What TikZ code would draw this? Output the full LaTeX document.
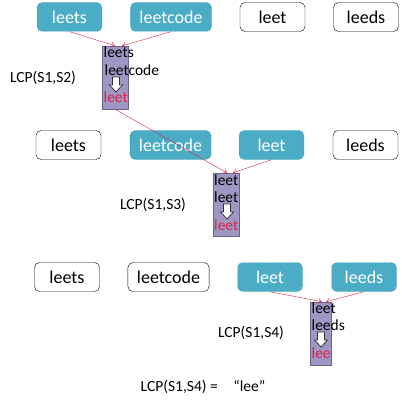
\documentclass[tikz,border=0pt]{standalone}
\usepackage{fontspec}
\setmainfont{Carlito}
\usetikzlibrary{arrows.meta}
\definecolor{hlblue}{RGB}{75,172,198}
\definecolor{hledge}{RGB}{50,130,160}
\definecolor{lcpfill}{RGB}{160,150,195}
\definecolor{lcpedge}{RGB}{105,100,130}
\definecolor{lcpred}{RGB}{225,35,70}
\tikzset{
	word/.style={draw=black, rounded corners=5pt, minimum width=65pt, minimum height=29pt, inner xsep=9pt, font=\fontsize{18}{18}\selectfont},
	wordhl/.style={word, fill=hlblue, draw=hledge, densely dotted, text=white},
	lcpbar/.style={draw=lcpedge, fill=lcpfill, minimum width=26pt, minimum height=63pt, inner sep=0pt},
	bartext/.style={anchor=west, inner sep=0pt, font=\fontsize{15.5}{15.5}\selectfont},
	label/.style={font=\fontsize{15.5}{15.5}\selectfont},
	link/.style={draw=lcpred, -{To[length=4pt,width=6pt]}},
	downarr/.pic={\draw[fill=white, draw=black!80, thick] (-3.5,0) -- (3.5,0) -- (3.5,8) -- (6.5,8) -- (0,15) -- (-6.5,8) -- (-3.5,8) -- cycle;}
}
\begin{document}
\begin{tikzpicture}[x=1pt,y=-1pt]
	\useasboundingbox (0,0) rectangle (401,406);
	% first pair: S1 and S2
	\node[wordhl] (s1a) at (69.5,17) {leets};
	\node[wordhl] (s1b) at (171,17) {leetcode};
	\node[word] (s1c) at (272.5,17) {leet};
	\node[word] (s1d) at (366,17) {leeds};
	\node[lcpbar] (r1) at (115,77.5) {};
	\node[bartext] at (103.5,52) {leets};
	\node[bartext] at (104.5,70) {leetcode};
	\pic at (116,77) {downarr};
	\node[bartext, text=lcpred] at (103.5,97) {leet};
	\node[label] (l1) at (43,78) {LCP(S1,S2)};
	\draw[link] (s1a.south) -- (r1.north);
	\draw[link] (s1b.south) -- ([xshift=7pt]r1.north);
	
	% second pair: S1 and S3
	\node[word] (s2a) at (68.5,145) {leets};
	\node[wordhl] (s2b) at (170.5,145) {leetcode};
	\node[wordhl] (s2c) at (271.5,145) {leet};
	\node[word] (s2d) at (365.5,145) {leeds};
	\node[lcpbar] (r2) at (226,204.5) {};
	\node[bartext] at (214,180) {leet};
	\node[bartext] at (214,197) {leet};
	\pic at (227,204) {downarr};
	\node[bartext, text=lcpred] at (214,225) {leet};
	\node[label] (l2) at (153,205) {LCP(S1,S3)};
	\draw[link] (r1.south) -- ([xshift=1pt]r2.north);
	\draw[link] (s2c.south) -- ([xshift=7pt]r2.north);
	
	% third pair: S1 and S4
	\node[word] (s3a) at (67,277) {leets};
	\node[word] (s3b) at (168.5,277) {leetcode};
	\node[wordhl] (s3c) at (270,277) {leet};
	\node[wordhl] (s3d) at (364,277) {leeds};
	\node[lcpbar, minimum width=21pt] (r3) at (320.5,333.5) {};
	\node[bartext] at (311.5,308) {leet};
	\node[bartext] at (311.5,325) {leeds};
	\pic at (321,332) {downarr};
	\node[bartext, text=lcpred] at (311.5,353) {lee};
	\node[label] (l3) at (251,333) {LCP(S1,S4)};
	\draw[link] (s3c.south) -- ([xshift=1.5pt]r3.north);
	\draw[link] (s3d.south) -- ([xshift=5.5pt]r3.north);
	
	\node[label] (res) at (203,387) {LCP(S1,S4) =\quad “lee”};
\end{tikzpicture}
\end{document}
